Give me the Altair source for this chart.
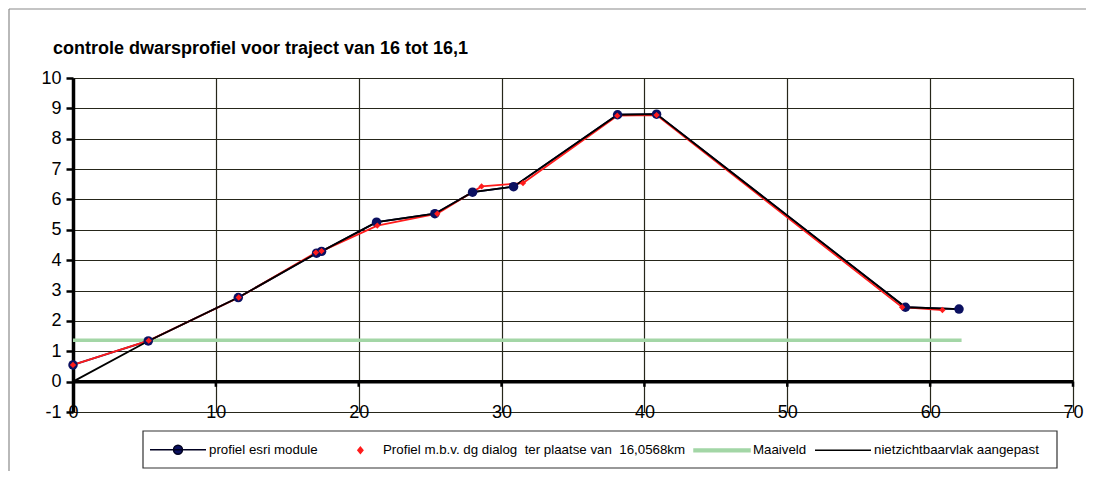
import altair as alt
import pandas as pd

# ---- data ----
esri_x = [0, 5.27, 11.57, 17.05, 17.4, 21.25, 25.33, 27.97, 30.84, 38.12, 40.85, 58.27, 62.02]
esri_y = [0.55, 1.34, 2.77, 4.23, 4.29, 5.25, 5.53, 6.24, 6.42, 8.79, 8.81, 2.45, 2.39]

dg_x = [0, 5.3, 11.6, 17.0, 17.4, 21.3, 25.5, 28.6, 31.5, 38.1, 40.85, 58.04, 60.86]
dg_y = [0.55, 1.35, 2.77, 4.25, 4.3, 5.14, 5.53, 6.43, 6.54, 8.76, 8.78, 2.45, 2.36]

niet_x = [0, 5.27, 11.57, 17.05, 17.4, 21.25, 25.33, 27.97, 30.84, 38.12, 40.85, 58.27, 62.02]
niet_y = [0, 1.34, 2.77, 4.23, 4.29, 5.25, 5.53, 6.24, 6.42, 8.79, 8.81, 2.45, 2.39]

maai_x = [0, 62.2]
maai_y = [1.36, 1.36]

x_ticks = [10, 20, 30, 40, 50, 60, 70]
x_labels = [0, 10, 20, 30, 40, 50, 60, 70]
y_labels = list(range(-1, 11))

NBSP = "\u00a0"
series_names = [
    "profiel esri module",
    "Profiel m.b.v. dg dialog" + NBSP + " ter plaatse van" + NBSP + " 16,0568km",
    "Maaiveld",
    "nietzichtbaarvlak aangepast",
]

NAVY = "#0b1060"
RED = "#ff1c1c"
GREEN = "#a3d6a6"
BG = "#e6e68c"
GRID = "#26261a"
FONT = "Liberation Sans"

esri = pd.DataFrame({"x": esri_x, "y": esri_y})
dg = pd.DataFrame({"x": dg_x, "y": dg_y})
niet = pd.DataFrame({"x": niet_x, "y": niet_y})
maai = pd.DataFrame({"x": maai_x, "y": maai_y})
ticks = pd.DataFrame({"x": x_ticks, "y": [0] * len(x_ticks), "y2": [-0.17] * len(x_ticks)})
zero = pd.DataFrame({"y": [0]})
legend_df = pd.DataFrame({"series": series_names, "x": [0] * 4, "y": [0] * 4})
one = pd.DataFrame({"a": [0]})

xscale = alt.Scale(domain=[0, 70], nice=False, zero=False)
yscale = alt.Scale(domain=[-1, 10], nice=False, zero=False)

X = alt.X("x:Q", scale=xscale, title=None,
          axis=alt.Axis(values=x_labels, tickCount=len(x_labels), grid=True, gridColor=GRID,
                        gridWidth=1.2, gridOpacity=1, domain=False, ticks=False,
                        labelPadding=-9, labelFontSize=18, labelColor="black",
                        labelFlush=False, labelOverlap=False, labelFont=FONT,
                        labelExpr="'' + datum.value"))
Y = alt.Y("y:Q", scale=yscale, title=None,
          axis=alt.Axis(values=y_labels, tickCount=len(y_labels), grid=True, gridColor=GRID,
                        gridWidth=1.2, gridOpacity=1, domain=True, domainColor="black",
                        domainWidth=3.5, ticks=True, tickColor="black", tickWidth=2.5,
                        tickSize=7, labelPadding=5, labelFontSize=18, labelColor="black",
                        labelFont=FONT, labelFlush=False, labelOverlap=False,
                        labelExpr="'' + datum.value"))

base_x = alt.X("x:Q", scale=xscale)
base_y = alt.Y("y:Q", scale=yscale)

maai_line = alt.Chart(maai).mark_line(color=GREEN, strokeWidth=3.5).encode(x=X, y=Y)
zero_rule = alt.Chart(zero).mark_rule(color="black", strokeWidth=3.5).encode(y=base_y)
tick_rules = alt.Chart(ticks).mark_rule(color="black", strokeWidth=2.5).encode(
    x=base_x, y=base_y, y2="y2:Q")
esri_line = alt.Chart(esri).mark_line(color=NAVY, strokeWidth=1.8).encode(x=base_x, y=base_y)
dg_line = alt.Chart(dg).mark_line(color=RED, strokeWidth=1.8).encode(x=base_x, y=base_y)
niet_line = alt.Chart(niet).mark_line(color="black", strokeWidth=1.8).encode(x=base_x, y=base_y)
esri_pts = alt.Chart(esri).mark_point(filled=True, shape="circle", size=90, color=NAVY,
                                      opacity=1).encode(x=base_x, y=base_y)
dg_pts = alt.Chart(dg).mark_point(filled=True, shape="diamond", size=40, color=RED,
                                  opacity=1).encode(x=base_x, y=base_y)

# legend (symbols drawn as custom paths)
paths = [
    "M-1,0L1,0M0.16,0A0.16,0.16,0,1,1,-0.16,0A0.16,0.16,0,1,1,0.16,0Z",
    "M0.3,-0.11L0.39,0L0.3,0.11L0.21,0Z",
    "M-1,-0.05L1,-0.05L1,0.05L-1,0.05Z",
    "M-1,0L1,0",
]
fills = [NAVY, RED, GREEN, "black"]
strokes = ["#000020", RED, GREEN, "black"]
leg_props = dict(title=None, orient="none", legendX=76, legendY=342.5, direction="horizontal",
                 columns=4, symbolSize=3136, symbolStrokeWidth=1.5, symbolOpacity=1,
                 labelFontSize=13.3, labelFont=FONT, labelColor="black", labelLimit=600,
                 labelOffset=2, columnPadding=5, padding=0, symbolOffset=0)
legend_layer = alt.Chart(legend_df).mark_point(filled=True, opacity=0).encode(
    x=base_x, y=base_y,
    fill=alt.Fill("series:N", scale=alt.Scale(domain=series_names, range=fills),
                  legend=alt.Legend(**leg_props)),
    stroke=alt.Stroke("series:N", scale=alt.Scale(domain=series_names, range=strokes),
                      legend=alt.Legend(**leg_props)),
    shape=alt.Shape("series:N", scale=alt.Scale(domain=series_names, range=paths),
                    legend=alt.Legend(**leg_props)),
)

legend_box = alt.Chart(one).mark_rect(filled=False, stroke="#333333", strokeWidth=1.2).encode(
    x=alt.value(70), x2=alt.value(984), y=alt.value(353), y2=alt.value(390))
frame_left = alt.Chart(one).mark_rule(color="#8a8a8a", strokeWidth=1.2).encode(
    x=alt.value(-64), y=alt.value(-69), y2=alt.value(393))
frame_top = alt.Chart(one).mark_rule(color="#8a8a8a", strokeWidth=1.2).encode(
    x=alt.value(-64), x2=alt.value(1013), y=alt.value(-69))

chart = alt.layer(
    maai_line, esri_line, dg_line, niet_line, zero_rule, tick_rules,
    esri_pts, dg_pts, legend_layer, legend_box, frame_left, frame_top,
).properties(
    width=1000, height=334,
    autosize=alt.AutoSizeParams(type="none"),
    padding={"left": 65, "top": 70, "right": 15, "bottom": 59},
    title=alt.TitleParams("controle dwarsprofiel voor traject van 16 tot 16,1",
                          anchor="start", frame="group", dx=-20, offset=-50,
                          fontSize=18, font=FONT, fontWeight="bold", color="black"),
).configure_view(
    fill=BG, stroke="#404030", strokeWidth=1
).configure(background="white", font=FONT)

chart.save("out.html", embed_options={"renderer": "svg", "actions": False})
